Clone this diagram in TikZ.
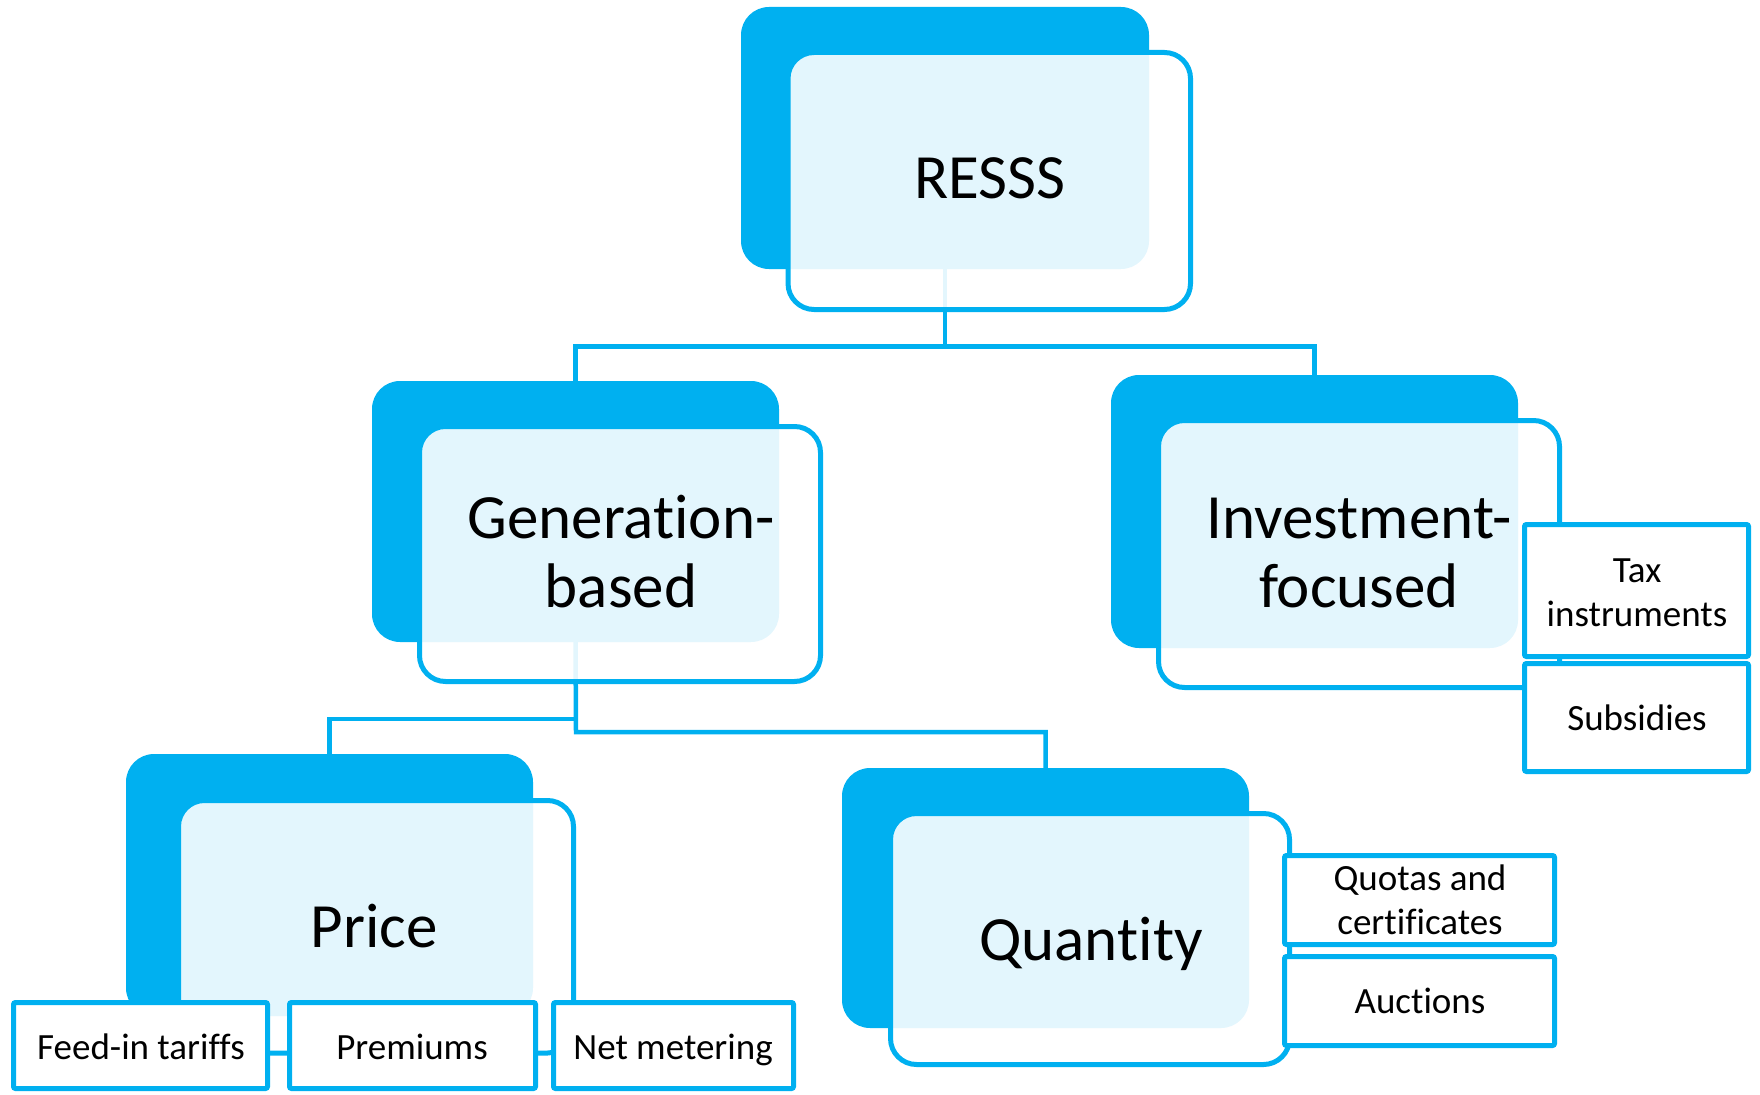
\documentclass[tikz,border=0pt]{standalone}
\usepackage{fontspec}
\setmainfont{Carlito}[Ligatures=CommonOff]
\usetikzlibrary{fit}
\definecolor{sablue}{HTML}{00B0F0}
\begin{document}
\begin{tikzpicture}[x=1pt,y=-1pt,
  backbox/.style={fill=sablue, rounded corners=28pt, inner sep=0pt, outer sep=0pt},
  frontbox/.style={draw=sablue, line width=5pt, fill=white, fill opacity=0.89,
                   rounded corners=26pt, inner sep=0pt, outer sep=0pt},
  leafbox/.style={draw=sablue, line width=5pt, fill=white, rounded corners=2pt,
                  inner sep=0pt, outer sep=0pt},
  conn/.style={draw=sablue, line width=4.5pt},
  bigtext/.style={font=\fontsize{63}{69}\selectfont, align=center, anchor=base,
                  inner sep=0pt, text=black},
  smalltext/.style={font=\fontsize{37}{44}\selectfont, align=center, anchor=base,
                    inner sep=0pt, text=black}]
\useasboundingbox (0,0) rectangle (1760,1094);

% rear coloured panels
\node[backbox, fit={(741,7) (1149,269)}]    (resssA) {};
\node[backbox, fit={(372,381) (779,642)}]   (genA)   {};
\node[backbox, fit={(1111,375) (1518,648)}] (invA)   {};
\node[backbox, fit={(126,754) (533,1016)}]  (priceA) {};
\node[backbox, fit={(842,768) (1249,1028)}] (quantA) {};

% tree connectors (below the translucent front panels)
\coordinate (hubTop)   at (945,346.5);
\coordinate (hubLeft)  at (576,719);
\coordinate (hubRight) at (576,732);
\draw[conn] (resssA.south) -- (hubTop) -| (genA.north);
\draw[conn] (hubTop) -| (invA.north);
\draw[conn] (genA.south) -- (hubRight) -| (quantA.north);
\draw[conn] (hubLeft) -| (priceA.north);
\draw[conn] (hubLeft) -- (hubRight);

% front outlined panels
\node[frontbox, fit={(788,52.5) (1190.5,309.5)}]     (resssB) {};
\node[frontbox, fit={(419.5,426.5) (820.5,681.5)}]   (genB)   {};
\node[frontbox, fit={(1158.5,420.5) (1559.5,687.5)}] (invB)   {};
\node[frontbox, fit={(178.5,800.5) (573.5,1053)}]    (priceB) {};
\node[frontbox, fit={(890.5,813.5) (1289.5,1064.5)}] (quantB) {};

% main labels (anchored on the baseline of the last line)
\node[bigtext] (resssT) at (990,199)  {RESSS};
\node[bigtext] (genT)   at (621,607)  {Generation-\\based};
\node[bigtext] (invT)   at (1359,607) {Investment-\\focused};
\node[bigtext] (priceT) at (374,947)  {Price};
\node[bigtext] (quantT) at (1091,960) {Quantity};

% instrument boxes
\node[leafbox, fit={(13.5,1002.5) (267.5,1088.5)}]   (fit)   {};
\node[leafbox, fit={(289.5,1002.5) (535.5,1088.5)}]  (prem)  {};
\node[leafbox, fit={(553.5,1002.5) (793.5,1088.5)}]  (netm)  {};
\node[leafbox, fit={(1524.5,524.5) (1748.5,656.5)}]  (tax)   {};
\node[leafbox, fit={(1524.5,663.5) (1748.5,771.5)}]  (subs)  {};
\node[leafbox, fit={(1284.5,855.5) (1554.5,944.5)}]  (quota) {};
\node[leafbox, fit={(1284.5,956.5) (1554.5,1045.5)}] (auct)  {};

\node[smalltext] (fitT)   at (141,1059)  {Feed-in tariffs};
\node[smalltext] (premT)  at (412,1059)  {Premiums};
\node[smalltext] (netmT)  at (673,1059)  {Net metering};
\node[smalltext] (taxT)   at (1637,626)  {Tax\\instruments};
\node[smalltext] (subsT)  at (1637,730)  {Subsidies};
\node[smalltext] (quotaT) at (1420,934)  {Quotas and\\certificates};
\node[smalltext] (auctT)  at (1420,1013) {Auctions};
\end{tikzpicture}
\end{document}
